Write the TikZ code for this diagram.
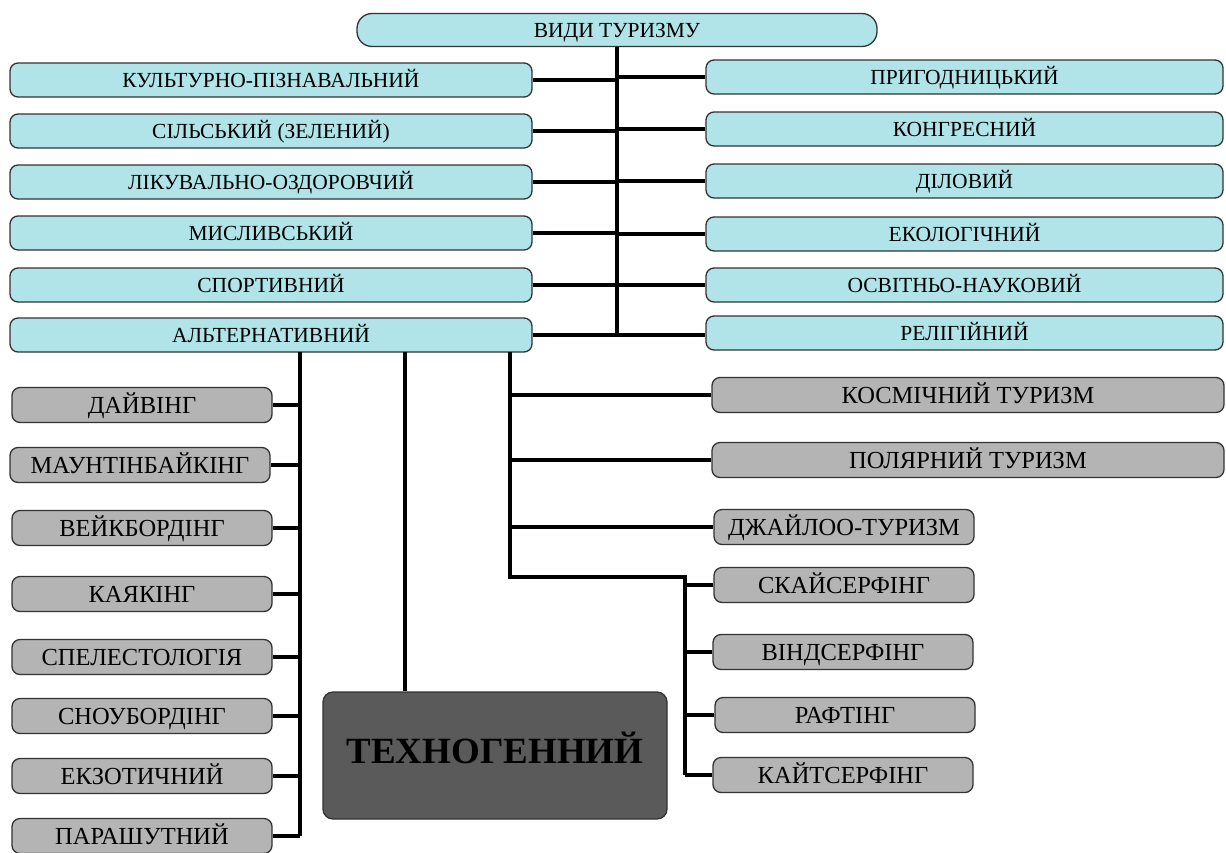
\documentclass[tikz,border=0pt]{standalone}
\usepackage{fontspec}
\setmainfont{Liberation Serif}
\definecolor{cyanfill}{HTML}{B0E4E8}
\definecolor{greyfill}{HTML}{B4B4B4}
\definecolor{darkfill}{HTML}{5A5A5A}
\definecolor{edge}{HTML}{333333}
\tikzset{
  basebox/.style={draw=edge, line width=1.3pt, rounded corners=8pt, align=center, inner sep=0pt, text depth=0pt},
  cyanbox/.style={basebox, fill=cyanfill, minimum height=34pt, text height=14pt, font=\fontsize{21.5}{24}\selectfont},
  topbox/.style={cyanbox, rounded corners=15pt, minimum height=33pt, minimum width=520pt},
  lbox/.style={cyanbox, minimum width=522pt},
  rbox/.style={cyanbox, minimum width=517pt},
  greybox/.style={basebox, fill=greyfill, minimum height=35pt, text height=16pt, font=\fontsize{24.5}{27}\selectfont},
  shortbox/.style={greybox, minimum width=260pt},
  longbox/.style={greybox, minimum width=512pt},
  darkbox/.style={basebox, fill=darkfill, rounded corners=10pt, minimum width=344pt, minimum height=127pt, text height=24pt, font=\bfseries\fontsize{37}{40}\selectfont},
  conn/.style={draw=black, line width=4pt, line join=miter},
  conn2/.style={draw=black, line width=4.5pt, line join=miter}
}
\begin{document}
\begin{tikzpicture}[x=1pt,y=-1pt]
\useasboundingbox (0,0) rectangle (1226,852);
% top
\node[topbox] (top) at (617,30) {ВИДИ ТУРИЗМУ};
% left cyan
\node[lbox] (l1) at (271,80) {КУЛЬТУРНО-ПІЗНАВАЛЬНИЙ};
\node[lbox] (l2) at (271,131) {СІЛЬСЬКИЙ (ЗЕЛЕНИЙ)};
\node[lbox] (l3) at (271,182) {ЛІКУВАЛЬНО-ОЗДОРОВЧИЙ};
\node[lbox] (l4) at (271,233) {МИСЛИВСЬКИЙ};
\node[lbox] (l5) at (271,285) {СПОРТИВНИЙ};
\node[lbox] (l6) at (271,335) {АЛЬТЕРНАТИВНИЙ};
% right cyan
\node[rbox] (r1) at (964.5,77) {ПРИГОДНИЦЬКИЙ};
\node[rbox] (r2) at (964.5,129) {КОНГРЕСНИЙ};
\node[rbox] (r3) at (964.5,181) {ДІЛОВИЙ};
\node[rbox] (r4) at (964.5,234) {ЕКОЛОГІЧНИЙ};
\node[rbox] (r5) at (964.5,285) {ОСВІТНЬО-НАУКОВИЙ};
\node[rbox] (r6) at (964.5,333) {РЕЛІГІЙНИЙ};
% left grey
\node[shortbox] (g1) at (142,405) {ДАЙВІНГ};
\node[shortbox] (g2) at (140,465) {МАУНТІНБАЙКІНГ};
\node[shortbox] (g3) at (142,528) {ВЕЙКБОРДІНГ};
\node[shortbox] (g4) at (142,594) {КАЯКІНГ};
\node[shortbox] (g5) at (142,657) {СПЕЛЕСТОЛОГІЯ};
\node[shortbox] (g6) at (142,716) {СНОУБОРДІНГ};
\node[shortbox] (g7) at (142,776) {ЕКЗОТИЧНИЙ};
\node[shortbox] (g8) at (142,836) {ПАРАШУТНИЙ};
% right grey
\node[longbox] (a1) at (968,395) {КОСМІЧНИЙ ТУРИЗМ};
\node[longbox] (a2) at (968,460) {ПОЛЯРНИЙ ТУРИЗМ};
\node[shortbox] (a3) at (844,527) {ДЖАЙЛОО-ТУРИЗМ};
\node[shortbox] (b1) at (844,585) {СКАЙСЕРФІНГ};
\node[shortbox] (b2) at (843,652) {ВІНДСЕРФІНГ};
\node[shortbox] (b3) at (845,715) {РАФТІНГ};
\node[shortbox] (b4) at (843,775) {КАЙТСЕРФІНГ};
% technogenic
\node[darkbox] (tech) at (495,755.5) {\raisebox{4pt}{ТЕХНОГЕННИЙ}};
% upper connectors
\draw[conn] (top.south) -- (top.south |- l6.east);
\foreach \n in {l1,l2,l3,l4,l5}{\draw[conn] (\n.east) -- (\n.east -| top.south);}
\foreach \n in {r1,r2,r3,r4,r5}{\draw[conn] (\n.west) -- (\n.west -| top.south);}
\draw[conn] (l6.east) -- (r6.west |- l6.east);
% lower connectors
\coordinate (lv) at (300,352);
\coordinate (mv) at (405,352);
\coordinate (rv) at (510,352);
\coordinate (elbow) at (685,577);
\draw[conn2] (lv) -- (lv |- g8.east);
\foreach \n in {g1,g2,g3,g4,g5,g6,g7,g8}{\draw[conn] (\n.east) -- (\n.east -| lv);}
\draw[conn2] (mv) -- (mv |- tech.north);
\draw[conn2] (rv) |- (elbow) -- (elbow |- b4.west);
\foreach \n in {a1,a2,a3}{\draw[conn] (\n.west) -- (\n.west -| rv);}
\foreach \n in {b1,b2,b3,b4}{\draw[conn] (\n.west) -- (\n.west -| elbow);}
\end{tikzpicture}
\end{document}
